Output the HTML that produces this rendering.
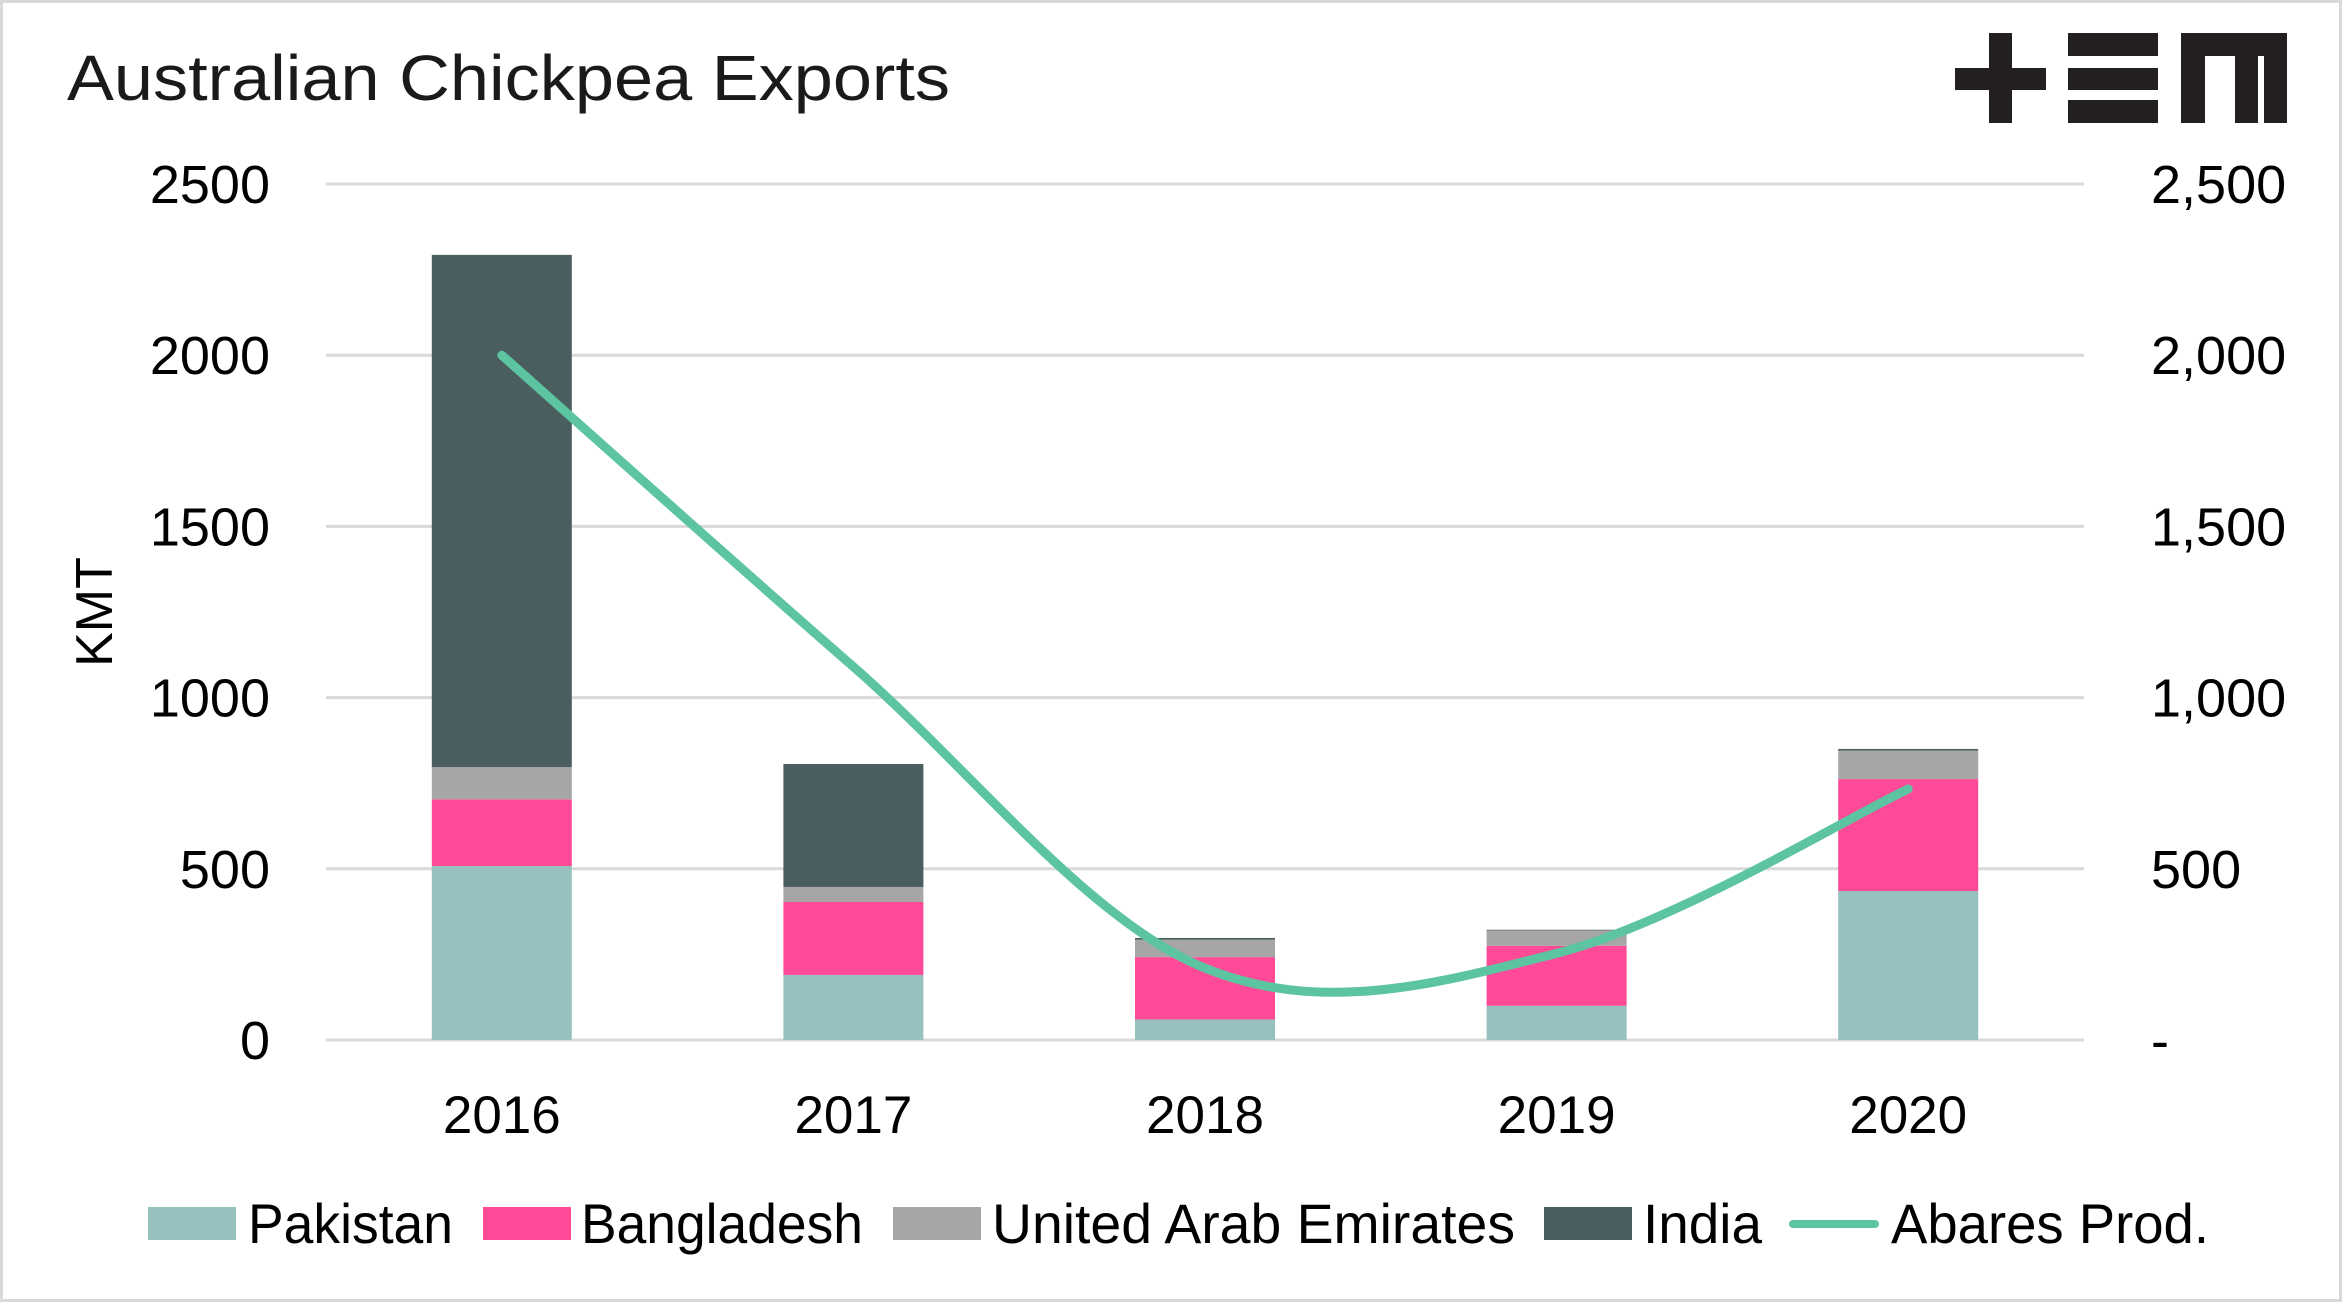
<!DOCTYPE html>
<html><head><meta charset="utf-8"><style>
html,body{margin:0;padding:0;background:#fff}
svg{display:block;font-family:"Liberation Sans",sans-serif}
</style></head><body>
<svg id="chart" width="2342" height="1302" viewBox="0 0 2342 1302">
<rect x="1.5" y="1.5" width="2339" height="1299" fill="#fff" stroke="#d9d9d9" stroke-width="3"/>
<text x="67" y="100" font-size="64" fill="#1a1a1a" textLength="883" lengthAdjust="spacingAndGlyphs">Australian Chickpea Exports</text>
<g fill="#231f20">
<rect x="1955" y="68" width="91" height="22"/><rect x="1989" y="33" width="23" height="90"/>
<rect x="2068" y="33" width="90" height="23"/><rect x="2068" y="68" width="90" height="22"/><rect x="2068" y="100" width="90" height="23"/>
<rect x="2181" y="33" width="106" height="23"/><rect x="2181" y="33" width="24" height="90"/><rect x="2235" y="33" width="23" height="90"/><rect x="2264" y="33" width="23" height="90"/>
</g>
<text x="0" y="0" transform="translate(112,612) rotate(-90)" text-anchor="middle" font-size="52" fill="#000">KMT</text>
<g id="grid"></g><g id="bars"></g><g id="line"></g><g id="labels"></g>
<g id="legend"></g>
</svg>
<script>
const categories = ["2016","2017","2018","2019","2020"];
const pakistan = [508,190,60,100,435];
const bangladesh = [195,213,182,175,327];
const uae = [94,44,51,45,83];
const india = [1496,359,5,2,5];
const abares = [2000,1090,210,253,733];
const leftTicks = ["0","500","1000","1500","2000","2500"];
const rightTicks = ["-","500","1,000","1,500","2,000","2,500"];
const tickValues = [0,500,1000,1500,2000,2500];

const NS="http://www.w3.org/2000/svg";
const x0=326,x1=2084,yBase=1040,yTop=184,yMax=2500;
const step=(x1-x0)/categories.length;
const xc=i=>x0+step*(i+0.5);
const y=v=>yBase-(v/yMax)*(yBase-yTop);
function mk(tag,attrs,parent){const e=document.createElementNS(NS,tag);for(const k in attrs)e.setAttribute(k,attrs[k]);parent.appendChild(e);return e;}
const grid=document.getElementById('grid'),labels=document.getElementById('labels');
tickValues.forEach((v,i)=>{
  const l=mk('line',{x1:x0,x2:x1,y1:y(v),y2:y(v),stroke:'#d9d9d9','stroke-width':3},grid);
  
  
  const t=mk('text',{x:270,y:y(v)+19,'text-anchor':'end','font-size':54,fill:'#000'},labels);
  t.textContent=leftTicks[i];
  
  
  const r=mk('text',{x:2151,y:y(v)+19,'font-size':54,fill:'#000'},labels);
  r.textContent=rightTicks[i];
  
  
});
const series=[[pakistan,'#97c1be','pakistan'],[bangladesh,'#ff4a97','bangladesh'],[uae,'#a6a6a6','uae'],[india,'#4a5e60','india']];
const bars=document.getElementById('bars');const bw=140;
categories.forEach((c,i)=>{
  let acc=0;
  series.forEach(([arr,col,nm])=>{
    const v=arr[i];
    const r=mk('rect',{x:xc(i)-bw/2,y:y(acc+v),width:bw,height:y(acc)-y(acc+v),fill:col},bars);
    
    
    acc+=v;
  });
  const t=mk('text',{x:xc(i),y:1133,'text-anchor':'middle','font-size':53,fill:'#000'},labels);
  t.textContent=c;
  
  
});
const pts=abares.map((v,i)=>[xc(i),y(v)]);
let d='M'+pts[0][0]+','+pts[0][1];
for(let i=0;i<pts.length-1;i++){
  const p0=pts[Math.max(0,i-1)],p1=pts[i],p2=pts[i+1],p3=pts[Math.min(pts.length-1,i+2)];
  const k=1/6;
  d+=` C${p1[0]+(p2[0]-p0[0])*k},${p1[1]+(p2[1]-p0[1])*k} ${p2[0]-(p3[0]-p1[0])*k},${p2[1]-(p3[1]-p1[1])*k} ${p2[0]},${p2[1]}`;
}
const ln=mk('path',{d:d,fill:'none',stroke:'#5cc4a0','stroke-width':9,'stroke-linecap':'round'},document.getElementById('line'));


const leg=document.getElementById('legend');
const items=[['Pakistan','#97c1be',148,248,205,'rect'],['Bangladesh','#ff4a97',483,581,282,'rect'],['United Arab Emirates','#a6a6a6',893,992,523,'rect'],['India','#4a5e60',1544,1643,119,'rect'],['Abares Prod.','#5cc4a0',1789,1891,318,'line']];
items.forEach(([name,col,sx,tx,tw,kind])=>{
  const g=mk('g',{},leg);
  
  
  if(kind==='rect') mk('rect',{x:sx,y:1207,width:88,height:33,fill:col},g);
  else mk('line',{x1:sx+4,x2:sx+86,y1:1224,y2:1224,stroke:col,'stroke-width':8,'stroke-linecap':'round'},g);
  const t=mk('text',{x:tx,y:1243,'font-size':56,fill:'#000',textLength:tw,lengthAdjust:'spacingAndGlyphs'},g);
  t.textContent=name;
});
</script>
</body></html>
